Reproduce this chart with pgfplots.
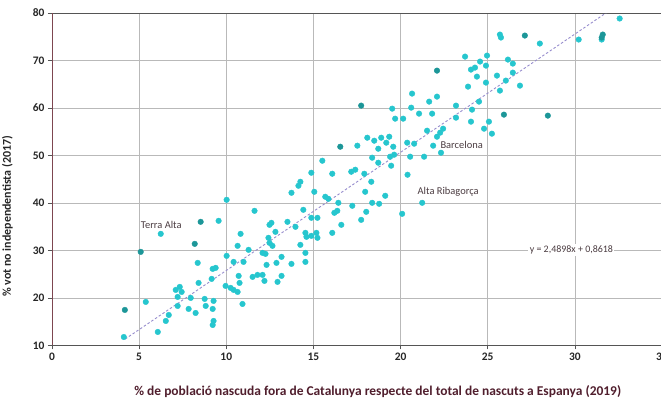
\documentclass[border=0pt]{standalone}
\usepackage{fontspec}
\setmainfont{Carlito}
\usepackage{pgfplots}
\pgfplotsset{compat=1.18}
\usepackage{pgfplotstable}

\definecolor{pt}{RGB}{38,198,206}
\definecolor{ptd}{RGB}{28,150,152}
\definecolor{trend}{RGB}{150,140,205}
\definecolor{gridc}{RGB}{185,185,185}
\definecolor{axc}{RGB}{85,85,85}
\definecolor{yaxc}{RGB}{125,70,80}
\definecolor{xlab}{RGB}{80,30,45}
\definecolor{labc}{RGB}{75,60,65}

% municipis, color clar
\pgfplotstableread{
x y
4.12 11.75
6.24 33.48
5.38 19.14
6.07 12.81
6.53 15.13
6.70 16.39
7.10 21.67
7.33 22.30
7.44 21.24
7.21 20.19
7.21 18.29
7.84 17.66
7.96 19.98
8.24 16.81
8.41 23.14
8.36 27.36
9.56 36.22
8.76 19.77
8.82 18.29
9.27 19.35
9.22 17.66
9.27 15.13
9.22 14.28
9.16 23.99
9.22 26.10
9.39 26.31
10.02 28.84
9.96 22.51
10.25 22.09
10.42 21.67
10.65 21.24
10.76 23.14
10.71 24.62
10.93 18.71
10.42 27.57
10.65 30.95
10.82 33.48
10.99 27.57
11.28 30.11
11.62 38.33
11.51 24.41
11.79 24.83
10.02 40.65
12.08 24.83
12.19 23.57
13.17 24.62
12.94 23.36
12.42 32.64
12.65 30.95
12.48 31.58
12.08 29.47
12.25 29.26
13.17 28.63
14.54 29.47
12.88 27.36
13.74 27.15
14.54 27.57
12.31 26.94
12.48 35.38
12.59 35.80
12.82 33.90
13.51 36.01
13.97 34.96
14.54 33.69
14.60 32.85
14.88 33.06
15.17 33.69
15.23 32.64
14.25 31.16
16.60 35.38
16.08 33.69
17.74 36.43
19.52 59.85
19.69 57.74
20.15 57.74
17.52 52.05
18.09 53.73
18.49 53.10
18.89 53.73
19.35 53.94
18.72 51.41
19.18 52.68
19.58 51.83
20.38 52.68
15.51 48.88
14.88 46.35
16.08 46.14
17.17 46.56
17.40 46.99
17.92 46.14
18.37 49.52
18.72 48.46
19.40 49.73
19.63 50.15
19.46 47.83
20.40 45.93
14.25 44.45
14.14 43.61
13.74 42.13
15.05 42.34
18.32 44.45
17.97 42.34
19.12 41.50
15.68 41.29
15.86 40.86
16.43 40.02
17.23 39.39
18.37 40.02
18.77 39.81
14.42 38.54
16.20 37.91
16.37 38.33
18.03 38.12
20.09 37.70
14.88 36.86
15.23 36.86
23.70 70.82
24.96 71.03
24.56 69.77
24.04 68.08
24.27 68.50
24.90 68.92
24.38 66.60
25.53 66.81
26.16 70.19
26.44 69.34
26.44 67.44
26.04 65.76
26.85 64.70
24.90 65.34
23.87 64.49
25.70 63.65
20.66 63.02
21.64 61.33
22.09 62.38
20.61 60.06
21.06 58.80
21.81 58.80
23.18 60.49
24.10 59.64
24.50 61.33
23.18 57.95
24.04 57.11
25.07 57.11
24.79 55.63
25.24 54.58
21.52 55.21
22.27 54.79
22.44 55.63
22.09 53.94
20.78 52.47
21.87 52.05
20.55 49.73
21.35 49.73
22.32 50.57
21.24 40.02
32.57 78.84
25.70 75.46
25.76 74.83
27.99 73.57
30.22 74.41
31.54 74.41
}\clars

% municipis, color fosc
\pgfplotstableread{
x y
4.18 17.45
5.09 29.68
8.19 31.37
8.53 36.01
17.74 60.49
16.54 51.83
22.09 67.86
25.93 58.59
27.13 75.25
31.54 74.83
31.60 75.46
28.45 58.38
}\foscos

\begin{document}
\begin{tikzpicture}
\begin{axis}[
    scale only axis,
    width=610bp, height=332.3bp,
    xmin=0, xmax=35, ymin=10, ymax=80,
    xtick={0,5,...,35}, ytick={10,20,...,80},
    grid=major,
    major grid style={gridc, line width=0.6bp},
    separate axis lines,
    axis line style={axc, line width=0.9bp},
    y axis line style={yaxc},
    tick align=outside, major tick length=4bp,
    tick style={axc, line width=0.6bp},
    xtick pos=bottom, ytick pos=left,
    /pgf/number format/assume math mode=true,
    tick label style={font=\bfseries\fontsize{11.5}{12}\selectfont, text=black!85},
    xlabel={\% de població nascuda fora de Catalunya respecte del total de nascuts a Espanya (2019)},
    ylabel={\% vot no independentista (2017)},
    xlabel style={at={(axis description cs:0.534,-0.14)}, anchor=center,
        font=\bfseries\fontsize{13.5}{15}\selectfont, text=xlab},
    ylabel style={at={(axis description cs:-0.073,0.388)}, anchor=center,
        font=\bfseries\fontsize{12}{14}\selectfont, text=black!85},
]
\coordinate (o) at (rel axis cs:0,0);
\addplot[trend, line width=0.9bp, dash pattern=on 2.5bp off 2bp]
    coordinates {(4.2,11.32) (31.8,80.04)};
\addplot[only marks, mark=*, mark size=2.8bp, mark options={fill=pt, draw=pt}]
    table[x=x, y=y] {\clars};
\addplot[only marks, mark=*, mark size=2.8bp, mark options={fill=ptd, draw=ptd}]
    table[x=x, y=y] {\foscos};
\node[anchor=west, text=labc, font=\fontsize{10.5}{12}\selectfont] at (axis cs:4.9,35.4) {Terra Alta};
\node[anchor=west, text=labc, font=\fontsize{10.5}{12}\selectfont] at (axis cs:22.09,52.26) {Barcelona};
\node[anchor=west, text=labc, font=\fontsize{10.5}{12}\selectfont] at (axis cs:20.78,42.34) {Alta Ribagorça};
\node[fill=white, inner sep=1.5bp, text=labc, font=\fontsize{10}{12}\selectfont] at (axis cs:29.8,30.1) {y = 2,4898x + 0,8618};
\end{axis}
\pgfresetboundingbox
\path[use as bounding box] ([xshift=-52bp,yshift=-55.7bp]o) rectangle ([xshift=609bp,yshift=345.3bp]o);
\end{tikzpicture}
\end{document}
